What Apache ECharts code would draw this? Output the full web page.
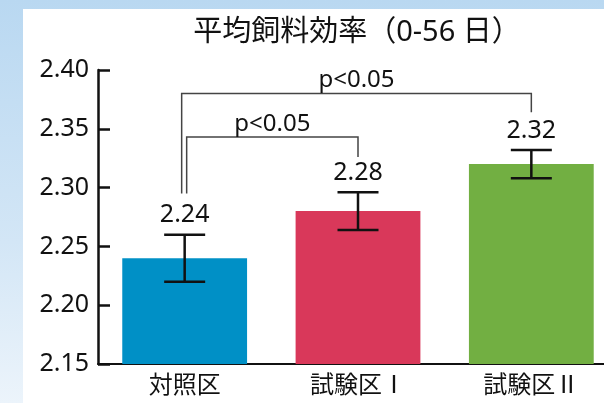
<!DOCTYPE html>
<html><head><meta charset="utf-8">
<script src="https://cdn.jsdelivr.net/npm/echarts@6/dist/echarts.min.js"></script>
<style>
html,body{margin:0;padding:0;width:604px;height:403px;overflow:hidden;}
body{background:linear-gradient(to bottom,#b9d8f1 0%,#d3e6f6 60%,#ecf4fb 100%);position:relative;}
#panel{position:absolute;left:23px;top:9px;right:0;bottom:0;background:#fff;}
#chart{position:absolute;left:0;top:0;width:640px;height:403px;}
</style></head>
<body><div id="panel"></div><div id="chart"></div>
<script>
const categories = ['対照区', '試験区Ⅰ', '試験区Ⅱ'];
const values = [2.24, 2.28, 2.32];
const errors = [0.02, 0.016, 0.012];
const barColors = ['#0090c6', '#d9385a', '#72af42'];
const yTicks = [2.15, 2.20, 2.25, 2.30, 2.35, 2.40];
// brackets: [fromIndex, toIndex, barLevel, leftLegEnd, rightLegEnd, label]
const brackets = [
  [0, 2, 2.380, 2.295, 2.364, 'p<0.05'],
  [0, 1, 2.343, 2.295, 2.326, 'p<0.05']
];
const titleText = '平均飼料効率（0-56 日）';

const FONT = '"Noto Sans", "Noto Sans CJK JP", sans-serif';
const CJK = '"Noto Sans CJK JP", "Noto Sans", sans-serif';
const chart = echarts.init(document.getElementById('chart'), null, {renderer: 'canvas'});

const errData = values.map((v, i) => [i, v - errors[i], v + errors[i], v]);

chart.setOption({
  backgroundColor: 'transparent',
  animation: false,
  title: {
    text: titleText, left: 352, top: 13, textAlign: 'center',
    textStyle: {fontFamily: FONT, fontSize: 29, fontWeight: 'normal', color: '#111'}
  },
  grid: {left: 98, top: 70, width: 520, height: 294, containLabel: false},
  xAxis: {
    type: 'category', data: categories,
    axisLine: {lineStyle: {color: '#111', width: 2}},
    axisTick: {inside: true, length: 6, lineStyle: {color: '#111', width: 2}},
    axisLabel: {fontFamily: CJK, fontSize: 24, color: '#111', margin: 8}
  },
  yAxis: {
    type: 'value', min: yTicks[0], max: yTicks[yTicks.length - 1], interval: 0.05,
    axisLine: {show: true, lineStyle: {color: '#111', width: 2.5}},
    axisTick: {show: true, inside: true, length: 12, lineStyle: {color: '#111', width: 2.5}},
    splitLine: {show: false},
    axisLabel: {fontFamily: FONT, fontSize: 25, color: '#111', margin: 9,
      formatter: v => v.toFixed(2)}
  },
  series: [
    {
      type: 'bar', barWidth: '72%',
      data: values.map((v, i) => ({value: v, itemStyle: {color: barColors[i]}})),
      z: 2
    },
    {
      type: 'custom', z: 5,
      data: errData,
      renderItem: function (params, api) {
        const x = api.coord([api.value(0), api.value(1)])[0];
        const lo = api.coord([api.value(0), api.value(1)])[1];
        const hi = api.coord([api.value(0), api.value(2)])[1];
        const w = 20.5;
        const st = {stroke: '#111', lineWidth: 2.5};
        return {type: 'group', children: [
          {type: 'line', shape: {x1: x, y1: lo, x2: x, y2: hi}, style: st},
          {type: 'line', shape: {x1: x - w, y1: lo, x2: x + w, y2: lo}, style: st},
          {type: 'line', shape: {x1: x - w, y1: hi, x2: x + w, y2: hi}, style: st},
          {type: 'text', x: x, y: hi - 7, style: {text: api.value(3).toFixed(2),
            textAlign: 'center', textVerticalAlign: 'bottom',
            font: '25px ' + FONT, fill: '#111'}}
        ]};
      }
    },
    {
      type: 'custom', z: 4,
      data: brackets.map((b, i) => [b[0], b[1], b[2], b[3], b[4], i]),
      renderItem: function (params, api) {
        const i0 = api.value(0), i1 = api.value(1);
        const off = api.value(5) === 0 ? -3 : 2;
        const x0 = api.coord([i0, api.value(2)])[0] + off;
        const x1 = api.coord([i1, api.value(2)])[0];
        const yb = api.coord([i0, api.value(2)])[1];
        const yl = api.coord([i0, api.value(3)])[1];
        const yr = api.coord([i1, api.value(4)])[1];
        const st = {stroke: '#444', lineWidth: 1.5, fill: null};
        return {type: 'group', children: [
          {type: 'polyline', shape: {points: [[x0, yl], [x0, yb], [x1, yb], [x1, yr]]}, style: st},
          {type: 'text', x: (x0 + x1) / 2, y: yb - 1, style: {text: brackets[api.value(5)][5],
            textAlign: 'center', textVerticalAlign: 'bottom',
            font: '24px ' + FONT, fill: '#111'}}
        ]};
      }
    }
  ]
});
</script></body></html>
